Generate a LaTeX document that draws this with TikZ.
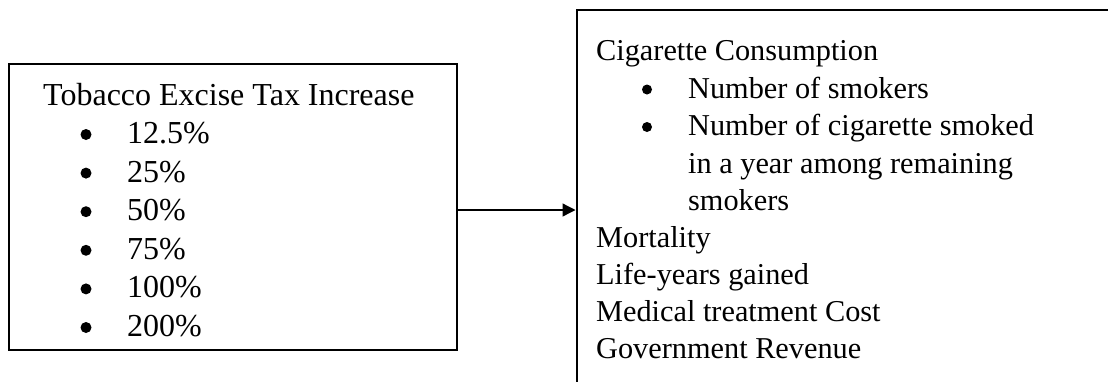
\documentclass[tikz,border=0pt]{standalone}
\usepackage{fontspec}
\setmainfont{Liberation Serif}
\usetikzlibrary{arrows.meta}
\begin{document}
\begin{tikzpicture}[x=1pt,y=-1pt,
  panel/.style={draw=black, line width=2pt, inner sep=0pt, fill=none},
  txtL/.style={anchor=base west, inner sep=0pt, font=\fontsize{32}{38}\selectfont},
  txtR/.style={anchor=base west, inner sep=0pt, font=\fontsize{30.3}{37}\selectfont},
  dot/.style={circle, fill=black, inner sep=0pt, minimum size=11pt},
  link/.style={draw=black, line width=1.3pt, -{Triangle[length=13pt,width=13pt]}}]
\useasboundingbox (0,0) rectangle (1108,381);

% input box: tax scenarios
\node[panel, minimum width=448pt, minimum height=286pt] (tax) at (233,207) {};
\node[txtL] (ttitle) at (43,105) {Tobacco Excise Tax Increase};
\foreach \v [count=\i] in {12.5\%,25\%,50\%,75\%,100\%,200\%}{
  \pgfmathsetmacro{\yb}{143.5+38.6*(\i-1)}
  \node[dot] (tb\i) at (86,\yb-9) {};
  \node[txtL] (tv\i) at (127,\yb) {\v};
}

% output box: outcome measures (runs past the page edge)
\node[panel, minimum width=560pt, minimum height=400pt] (out) at (856.5,210) {};
\node[txtR] (o1) at (596,60) {Cigarette Consumption};
\node[dot, minimum size=10pt] (ob1) at (647,98-8.5) {};
\node[txtR] (o2) at (688,98) {Number of smokers};
\node[dot, minimum size=10pt] (ob2) at (647,135.5-8.5) {};
\node[txtR] (o3) at (688,135.5) {Number of cigarette smoked};
\node[txtR] (o4) at (688,173) {in a year among remaining};
\node[txtR] (o5) at (688,210) {smokers};
\node[txtR] (o6) at (596,247.5) {Mortality};
\node[txtR] (o7) at (596,284.5) {Life-years gained};
\node[txtR] (o8) at (596,321.5) {Medical treatment Cost};
\node[txtR] (o9) at (596,358.5) {Government Revenue};

% connector
\draw[link] ([yshift=-3pt]tax.east) -- ([yshift=-3pt]tax.east -| out.west);
\end{tikzpicture}
\end{document}
